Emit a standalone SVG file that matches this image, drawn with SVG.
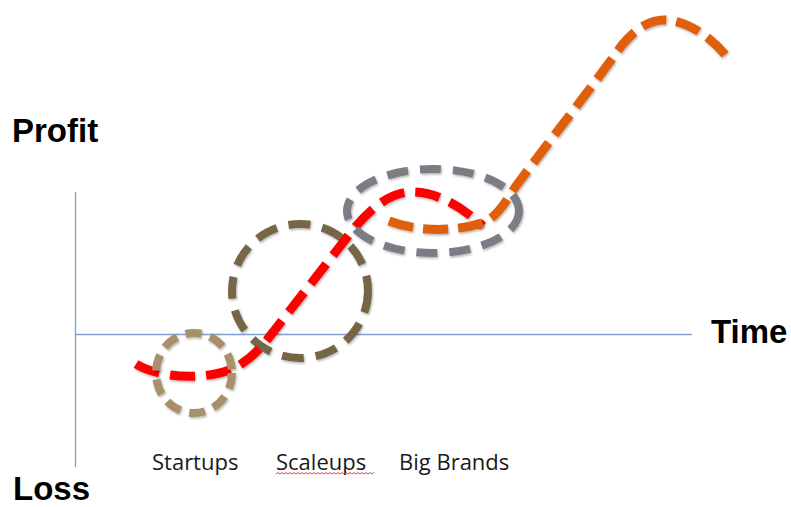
<svg xmlns="http://www.w3.org/2000/svg" width="791" height="507" viewBox="0 0 791 507">
<style>
.axis{stroke:#7F9FD0;stroke-width:1.3;fill:none}
.big{font-family:"Liberation Sans",Arial,sans-serif;font-weight:bold;font-size:33px;fill:#000}
.lbl{font-family:"Open Sans","Liberation Sans",sans-serif;font-size:22px;fill:#1a1a1a}
.curve{fill:none;stroke-width:9;stroke-linecap:butt;filter:url(#sh)}
.ring{fill:none;stroke-width:8;filter:url(#sh)}
</style>
<defs>
<filter id="sh" x="-20%" y="-20%" width="140%" height="140%">
<feDropShadow dx="1" dy="1.5" stdDeviation="1" flood-color="#000" flood-opacity="0.3"/>
</filter>
</defs>
<rect width="791" height="507" fill="#fff"/>
<g id="axes">
<line class="axis" x1="75.5" y1="192" x2="75.5" y2="467"/>
<line class="axis" x1="75" y1="334.5" x2="692" y2="334.5"/>
</g>
<g id="axis-labels">
<text class="big" x="12" y="142" font-size="34">Profit</text>
<text class="big" x="13" y="500">Loss</text>
<text class="big" x="711" y="343">Time</text>
</g>
<g id="scaleups">
<ellipse class="ring" cx="300" cy="291" rx="68" ry="67" stroke="#766646" stroke-dasharray="22 12"/>
</g>
<g id="connectors">
<path id="red-curve" class="curve" stroke="#FF0000" stroke-dasharray="25 11" d="M 136 364 C 160 379, 212 381, 238 366 C 251 358, 261 348, 270 336 L 352 231 C 372 206, 392 192, 412 192 C 440 192, 465 210, 483 226"/>
<path id="orange-curve" class="curve" stroke="#DF5E0E" stroke-dasharray="25 10" d="M 389 221 C 420 233, 460 231, 485 222 C 500 214, 506 200, 516 186 C 550 140, 590 90, 622 45 C 638 26, 652 19, 667 20 C 690 22, 712 38, 728 58"/>
</g>
<g id="big-brands">
<ellipse class="ring" cx="433" cy="211" rx="86" ry="42" stroke="#7B7C85" stroke-dasharray="21 12"/>
</g>
<g id="startups">
<ellipse class="ring" cx="194" cy="373" rx="38" ry="40" stroke="#A8916B" stroke-dasharray="16 9"/>
</g>
<g id="stage-labels">
<text class="lbl" x="152" y="470">Startups</text>
<text class="lbl" x="276" y="470">Scaleups</text>
<text class="lbl" x="399" y="470">Big Brands</text>
<path d="M276 474 l2 -1.5 l2 1.5 l2 -1.5 l2 1.5 l2 -1.5 l2 1.5 l2 -1.5 l2 1.5 l2 -1.5 l2 1.5 l2 -1.5 l2 1.5 l2 -1.5 l2 1.5 l2 -1.5 l2 1.5 l2 -1.5 l2 1.5 l2 -1.5 l2 1.5 l2 -1.5 l2 1.5 l2 -1.5 l2 1.5 l2 -1.5 l2 1.5 l2 -1.5 l2 1.5 l2 -1.5 l2 1.5 l2 -1.5 l2 1.5 l2 -1.5 l2 1.5 l2 -1.5 l2 1.5 l2 -1.5 l2 1.5 l2 -1.5 l2 1.5 l2 -1.5 l2 1.5 l2 -1.5 l2 1.5 l2 -1.5 l2 1.5 l2 -1.5 l2 1.5 l2 -1.5" fill="none" stroke="#E03030" stroke-width="0.9"/>
</g>
</svg>
